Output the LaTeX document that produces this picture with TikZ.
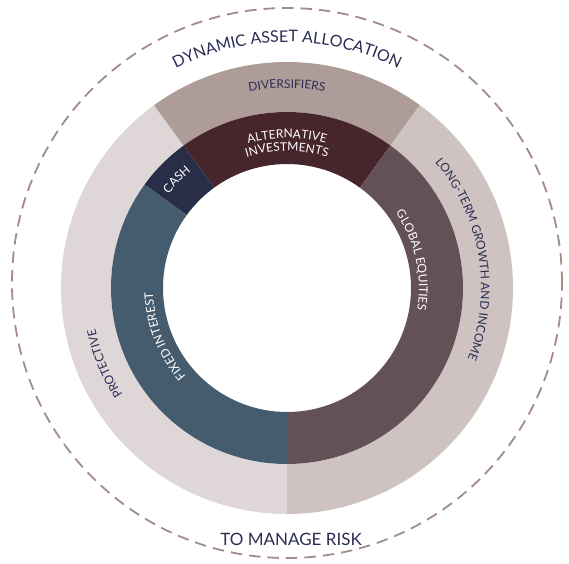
\documentclass[tikz,border=0pt]{standalone}
\usepackage{fontspec}
\setmainfont{Lato}
\usetikzlibrary{decorations.text}

\definecolor{navytext}{HTML}{2B2D55}
\definecolor{dashbrown}{HTML}{A38C88}
\definecolor{protcol}{HTML}{DED6D7}
\definecolor{divcol}{HTML}{AE9C98}
\definecolor{growcol}{HTML}{CEC3C1}
\definecolor{altcol}{HTML}{47252D}
\definecolor{cashcol}{HTML}{282D48}
\definecolor{fixedcol}{HTML}{455C6E}
\definecolor{equitycol}{HTML}{645157}

\newcommand{\bigfont}{\fontsize{16}{18}\selectfont}
\newcommand{\ringfont}{\fontsize{12}{14}\selectfont}

\tikzset{
  ringtext/.style={decorate, decoration={text along path, text align=center, text color=#1}},
}

\begin{document}
\begin{tikzpicture}[x=1pt, y=1pt]
	\useasboundingbox (-287,-275) rectangle (282,288);
	\fill[white] (-287,-275) rectangle (282,288);

	% outer ring
	\fill[protcol] 	(126:176) arc (126:270:176) -- (270:226) arc (270:126:226) -- cycle;
	\fill[divcol] 	(54:176) arc (54:126:176) -- (126:226) arc (126:54:226) -- cycle;
	\fill[growcol] 	(-90:176) arc (-90:54:176) -- (54:226) arc (54:-90:226) -- cycle;

	% inner ring
	\fill[altcol] 	(54:124) arc (54:126:124) -- (126:176) arc (126:54:176) -- cycle;
	\fill[cashcol] 	(126:124) arc (126:144:124) -- (144:176) arc (144:126:176) -- cycle;
	\fill[fixedcol] 	(144:124) arc (144:270:124) -- (270:176) arc (270:144:176) -- cycle;
	\fill[equitycol] 	(-90:124) arc (-90:54:124) -- (54:176) arc (54:-90:176) -- cycle;

	\draw[dashbrown, line width=1.8pt, dash pattern=on 11.5pt off 7pt] (0,5) circle (275);

	% labels
	\path[ringtext=navytext, decoration={text={|\bigfont|DYNAMIC ASSET ALLOCATION}}] (140:246) arc (140:40:246);
	\path[ringtext=navytext, decoration={text={|\ringfont|DIVERSIFIERS}}] (125:200) arc (125:55:200);
	\path[ringtext=navytext, decoration={text={|\ringfont|LONG-TERM GROWTH AND INCOME}}] (54:194) arc (54:-35:194);
	\path[ringtext=navytext, decoration={text={|\ringfont|PROTECTIVE}}] (240:196) arc (240:165:196);
	\path[ringtext=white, decoration={text={|\ringfont|ALTERNATIVE}}] (130:150) arc (130:50:150);
	\path[ringtext=white, decoration={text={|\ringfont|INVESTMENTS}}] (130:137) arc (130:50:137);
	\path[ringtext=white, decoration={text={|\ringfont|CASH}}] (150:151) arc (150:121:151);
	\path[ringtext=white, decoration={text={|\ringfont|FIXED INTEREST}}] (235:134) arc (235:168:134);
	\path[ringtext=white, decoration={text={|\ringfont|GLOBAL EQUITIES}}] (50:132) arc (50:-25:132);

	\node[anchor=base, text=navytext, font=\fontsize{17}{19}\selectfont] (risk) at (4,-257) {TO MANAGE RISK};
\end{tikzpicture}
\end{document}
